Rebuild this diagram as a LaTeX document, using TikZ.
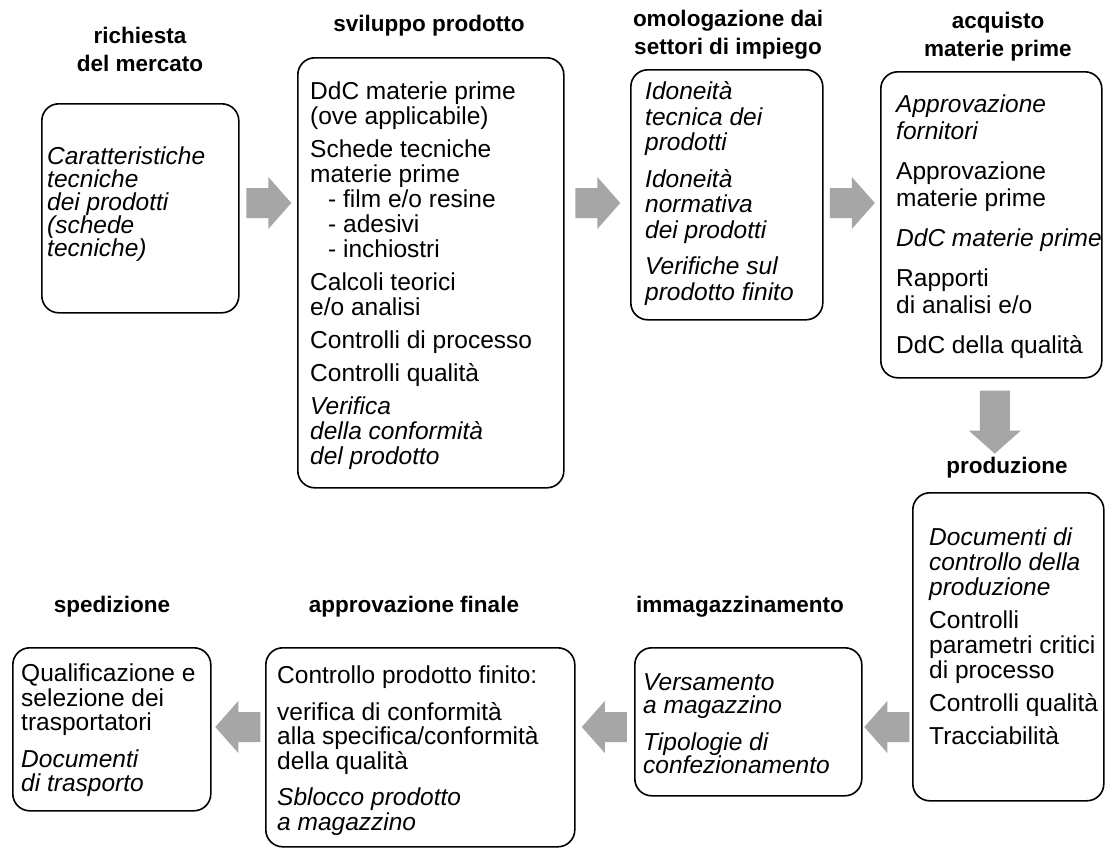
\documentclass[tikz,border=0pt]{standalone}
\usepackage{fontspec}
\setmainfont{Liberation Sans}
\usetikzlibrary{calc}
\definecolor{arrowfill}{RGB}{166,166,166}
% strut that fixes the height of the first line of each text block
\newcommand{\firstln}{\rule{0pt}{18bp}}

\begin{document}
\begin{tikzpicture}[x=1bp,y=-1bp,
  box/.style={draw=black, line width=1.6bp, rounded corners=17bp, inner sep=0pt, anchor=north west},
  body/.style={inner sep=0pt, align=left, anchor=north west, font=\fontsize{24.5bp}{#1}\selectfont},
  head/.style={inner sep=0pt, align=center, font=\fontsize{22.5bp}{28bp}\selectfont\bfseries},
  blockarrow/.pic={
    \fill[arrowfill] (-#1,-15) -- (0,-15) -- (0,-26) -- (23,0) -- (0,26) -- (0,15) -- (-#1,15) -- cycle;
  },
]
\fill[white] (0,0) rectangle (1105,848);
\useasboundingbox (0,0) rectangle (1105,848);

% ---------- boxes ----------
\node[box, minimum width=197bp, minimum height=209bp] (b1) at (41,103) {};
\node[box, minimum width=266bp, minimum height=430bp] (b2) at (297,57) {};
\node[box, minimum width=192bp, minimum height=250bp] (b3) at (630,69) {};
\node[box, minimum width=221bp, minimum height=306bp] (b4) at (880,71) {};
\node[box, minimum width=191bp, minimum height=308bp] (b5) at (912,492) {};
\node[box, minimum width=227bp, minimum height=148bp] (b6) at (634,647) {};
\node[box, minimum width=309bp, minimum height=199bp] (b7) at (265,647) {};
\node[box, minimum width=198bp, minimum height=163bp] (b8) at (12,647) {};

% ---------- stage titles ----------
\node[head] (h1) at (140,49) {richiesta\\del mercato};
\node[head] (h2) at (429,26) {sviluppo prodotto};
\node[head] (h3) at (728,35) {omologazione dai\\settori di impiego};
\node[head] (h4) at (998,37) {acquisto\\materie prime};
\node[head] (h5) at (1007,468) {produzione};
\node[head] (h6) at (112,607) {spedizione};
\node[head] (h7) at (414,607) {approvazione finale};
\node[head] (h8) at (740,607) {immagazzinamento};

% ---------- box contents ----------
\node[body=23bp] (t1) at ($(b1.north west)+(6,43.5)$)
  {\firstln\textit{Caratteristiche}\\\textit{tecniche}\\\textit{dei prodotti}\\\textit{(schede}\\\textit{tecniche)}};

\node[body=25bp] (t2) at ($(b2.north west)+(13,24.5)$)
  {\firstln DdC materie prime\\(ove applicabile)\\[8bp]
   Schede tecniche\\materie prime\\\hspace*{18bp}- film e/o resine\\\hspace*{18bp}- adesivi\\\hspace*{18bp}- inchiostri\\[8bp]
   Calcoli teorici\\e/o analisi\\[8bp]
   Controlli di processo\\[8bp]
   Controlli qualità\\[8bp]
   \textit{Verifica}\\\textit{della conformità}\\\textit{del prodotto}};

\node[body=25.5bp] (t3) at ($(b3.north west)+(15,12.5)$)
  {\firstln\textit{Idoneità}\\\textit{tecnica dei}\\\textit{prodotti}\\[11bp]
   \textit{Idoneità}\\\textit{normativa}\\\textit{dei prodotti}\\[11bp]
   \textit{Verifiche sul}\\\textit{prodotto finito}};

\node[body=27bp] (t4) at ($(b4.north west)+(16,23.5)$)
  {\firstln\textit{Approvazione}\\\textit{fornitori}\\[13bp]
   Approvazione\\materie prime\\[13bp]
   \textit{DdC materie prime}\\[13bp]
   Rapporti\\di analisi e/o\\[13bp]
   DdC della qualità};

\node[body=25bp] (t5) at ($(b5.north west)+(17,35.5)$)
  {\firstln\textit{Documenti di}\\\textit{controllo della}\\\textit{produzione}\\[8bp]
   Controlli\\parametri critici\\di processo\\[8bp]
   Controlli qualità\\[8bp]
   Tracciabilità};

\node[body=23bp] (t6) at ($(b6.north west)+(9,25.5)$)
  {\firstln\textit{Versamento}\\\textit{a magazzino}\\[14bp]
   \textit{Tipologie di}\\\textit{confezionamento}};

\node[body=24.5bp] (t7) at ($(b7.north west)+(12,18.5)$)
  {\firstln Controllo prodotto finito:\\[12bp]
   verifica di conformità\\alla specifica/conformità\\della qualità\\[12bp]
   \textit{Sblocco prodotto}\\\textit{a magazzino}};

\node[body=24.5bp] (t8) at ($(b8.north west)+(9,16.5)$)
  {\firstln Qualificazione e\\selezione dei\\trasportatori\\[12bp]
   \textit{Documenti}\\\textit{di trasporto}};

% ---------- flow arrows ----------
\coordinate (row1) at (0,203);
\coordinate (row3) at (0,727);
\pic (a1) at ($(b1.east |- row1)!0.5!(b2.west |- row1)$) {blockarrow=22};
\pic (a2) at ($(b2.east |- row1)!0.5!(b3.west |- row1)$) {blockarrow=22};
\pic (a3) at ($(b3.east |- row1)!0.5!(b4.west |- row1)$) {blockarrow=22};
\pic[rotate=-90] (a4) at ($(b4.south)+(3.5,52)$) {blockarrow=40};
\pic[rotate=180] (a5) at ($(b5.west |- row3)!0.5!(b6.east |- row3)$) {blockarrow=22};
\pic[rotate=180] (a6) at ($(b6.west |- row3)!0.5!(b7.east |- row3)$) {blockarrow=22};
\pic[rotate=180] (a7) at ($(b7.west |- row3)!0.5!(b8.east |- row3)$) {blockarrow=22};
\end{tikzpicture}
\end{document}
